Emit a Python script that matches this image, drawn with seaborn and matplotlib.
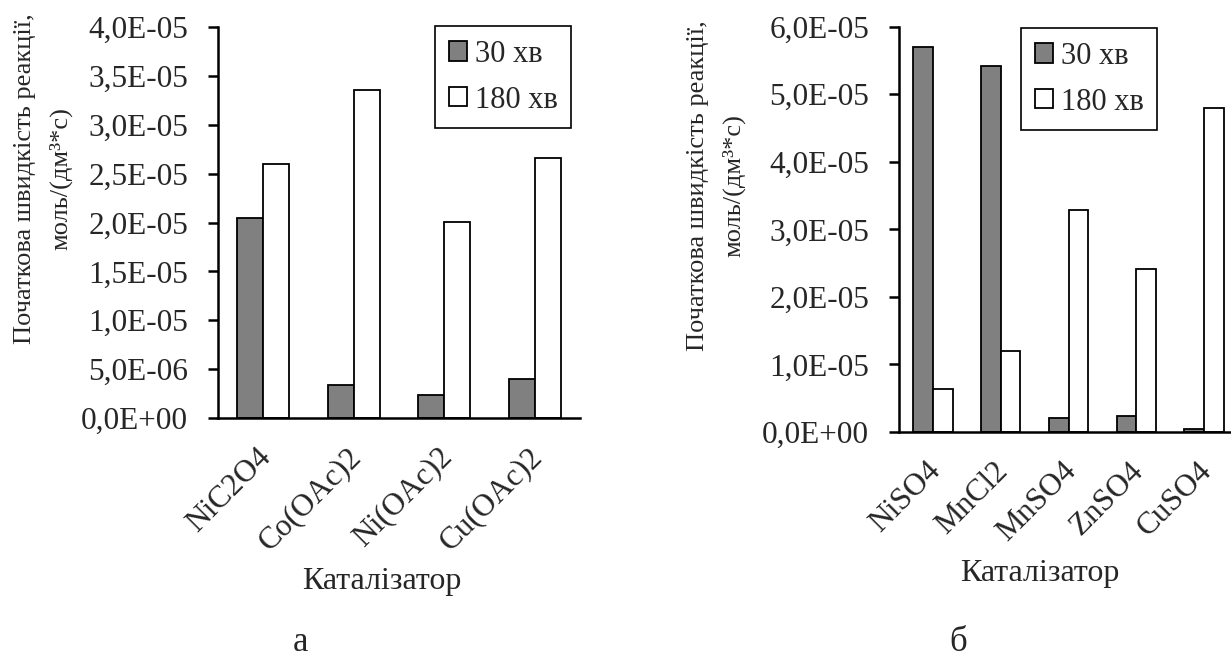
import numpy as np
import pandas as pd
import matplotlib
matplotlib.use("Agg")
import matplotlib.pyplot as plt
import matplotlib.transforms as mtransforms
from matplotlib.ticker import FuncFormatter, MultipleLocator
import seaborn as sns

# ---- data ----
cats_a = ["NiC2O4", "Co(OAc)2", "Ni(OAc)2", "Cu(OAc)2"]
a_30 = [2.05e-5, 0.34e-5, 0.24e-5, 0.40e-5]
a_180 = [2.60e-5, 3.36e-5, 2.01e-5, 2.66e-5]

cats_b = ["NiSO4", "MnCl2", "MnSO4", "ZnSO4", "CuSO4"]
b_30 = [5.70e-5, 5.42e-5, 0.20e-5, 0.23e-5, 0.04e-5]
b_180 = [0.64e-5, 1.20e-5, 3.29e-5, 2.41e-5, 4.79e-5]

series = ["30 хв", "180 хв"]
ylabel = "Початкова швидкість реакції,\nмоль/(дм³*с)"
xlabel = "Каталізатор"

sns.set_theme(style="white")
plt.rcParams["font.family"] = ["Liberation Serif", "DejaVu Serif"]
plt.rcParams["font.size"] = 22

FS_TICK = 22.5
FS_LEG = 22
FS_LAB = 23
FS_PANEL = 25

fig = plt.figure(figsize=(12.31, 6.61), dpi=100)
W, H = 1231, 661


def px_axes(x0, x1, ytop, ybot):
    return [x0 / W, (H - ybot) / H, (x1 - x0) / W, (ybot - ytop) / H]


def sci_fmt(v, pos):
    return f"{v:.1E}".replace(".", ",")


def draw(ax, cats, v30, v180, ymax, ystep, leg_xy):
    df = pd.DataFrame({
        "cat": cats * 2,
        "val": list(v30) + list(v180),
        "time": [series[0]] * len(cats) + [series[1]] * len(cats),
    })
    sns.barplot(data=df, x="cat", y="val", hue="time", order=cats,
                hue_order=series, palette=["#808080", "#ffffff"],
                edgecolor="black", linewidth=1.3, width=0.58, ax=ax,
                saturation=1)
    n = len(cats)
    ax.set_xlim(-0.5, n - 0.5)
    ax.set_ylim(0, ymax)
    ax.yaxis.set_major_locator(MultipleLocator(ystep))
    ax.yaxis.set_major_formatter(FuncFormatter(sci_fmt))
    ax.set_xticks(np.arange(-0.5, n, 1.0))
    ax.set_xticklabels([""] * (n + 1))
    ax.set_xticks(np.arange(n), minor=True)
    ax.set_xticklabels(cats, minor=True, rotation=45, ha="right",
                       va="center", rotation_mode="anchor")
    ax.tick_params(axis="x", which="major", direction="out", length=7,
                   width=1.8, color="black")
    ax.tick_params(axis="x", which="minor", length=0, pad=25,
                   labelsize=FS_TICK)
    ax.tick_params(axis="y", direction="out", length=7, width=1.8,
                   color="black", labelsize=FS_TICK, pad=14.5, left=True)
    off = mtransforms.ScaledTranslation(3 / 100, 0, fig.dpi_scale_trans)
    for lab in ax.get_xticklabels(minor=True):
        lab.set_transform(lab.get_transform() + off)
    for s in ["top", "right"]:
        ax.spines[s].set_visible(False)
    for s in ["left", "bottom"]:
        ax.spines[s].set_linewidth(1.8)
        ax.spines[s].set_color("black")
    ax.set_xlabel("")
    ax.set_ylabel("")
    ax.grid(False)
    leg = ax.legend(loc="upper left", bbox_to_anchor=leg_xy,
                    bbox_transform=fig.transFigure, borderaxespad=0,
                    frameon=True, fancybox=False, fontsize=FS_LEG,
                    handlelength=0.6, handleheight=0.6, handletextpad=0.25,
                    labelspacing=0.55, borderpad=0.45)
    leg.get_frame().set_edgecolor("black")
    leg.get_frame().set_linewidth(1.2)
    leg.get_frame().set_alpha(1)


ax1 = fig.add_axes(px_axes(218, 580, 27, 418))
draw(ax1, cats_a, a_30, a_180, 4.0e-5, 0.5e-5, (435 / W, (H - 26) / H))

ax2 = fig.add_axes(px_axes(899, 1238, 26.7, 432))
draw(ax2, cats_b, b_30, b_180, 6.0e-5, 1.0e-5, (1021 / W, (H - 28) / H))

fig.text(43 / W, (H - 179) / H, ylabel, rotation=90, ha="center",
         va="center", multialignment="center", fontsize=19, linespacing=1.75)
fig.text(716 / W, (H - 186) / H, ylabel, rotation=90, ha="center",
         va="center", multialignment="center", fontsize=19, linespacing=1.75)

fig.text(382 / W, (H - 581) / H, xlabel, ha="center", va="center",
         fontsize=FS_LAB)
fig.text(1040 / W, (H - 573) / H, xlabel, ha="center", va="center",
         fontsize=FS_LAB)

fig.text(300 / W, (H - 651) / H, "а", ha="center", va="baseline",
         fontsize=FS_PANEL)
fig.text(958 / W, (H - 651) / H, "б", ha="center", va="baseline",
         fontsize=FS_PANEL)

fig.savefig("out.png", dpi=100, facecolor="white")
